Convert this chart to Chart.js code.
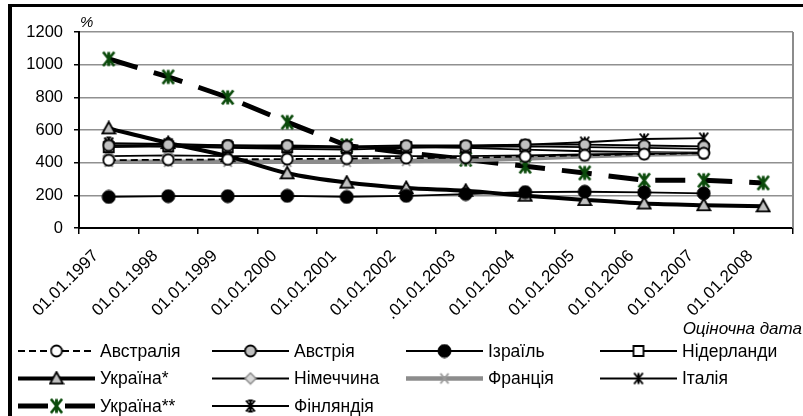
<!DOCTYPE html>
<html>
<head>
<meta charset="utf-8">
<script src="https://cdn.jsdelivr.net/npm/chart.js@4.4.1/dist/chart.umd.min.js"></script>
<style>
  html, body { margin: 0; padding: 0; background: #fff; }
  #wrap { position: relative; width: 803px; height: 416px; overflow: hidden; }
  #chart { position: absolute; left: 0; top: 0; }
  #frame { position: absolute; left: 8px; top: 4px; width: 830px; height: 440px;
           border-left: 4px solid #000; border-top: 3px solid #000; pointer-events: none; }
</style>
</head>
<body>
<div id="wrap">
  <canvas id="chart" width="803" height="416"></canvas>
  <div id="frame"></div>
</div>
<script>
// ─── Data ────────────────────────────────────────────────
const dates = ['01.01.1997', '01.01.1998', '01.01.1999', '01.01.2000', '01.01.2001', '01.01.2002',
               '.01.01.2003', '01.01.2004', '01.01.2005', '01.01.2006', '01.01.2007', '01.01.2008'];
const yTicks = [0, 200, 400, 600, 800, 1000, 1200];

const seriesNames = ['Австралія', 'Австрія', 'Ізраїль', 'Нідерланди', 'Україна*', 'Німеччина',
                     'Франція', 'Італія', 'Україна**', 'Фінляндія'];

const australia   = [415, 418, 420, 422, 425, 428, 430, 438, 445, 452, 458];
const austria     = [505, 510, 505, 505, 500, 505, 505, 510, 510, 505, 500];
const israel      = [190, 195, 195, 197, 190, 197, 208, 220, 222, 218, 212];
const netherlands = [495, 500, 495, 495, 490, 495, 495, 500, 495, 490, 485];
const ukraine1    = [610, 520, 440, 335, 278, 245, 228, 198, 172, 150, 140, 133];
const germany     = [440, 445, 440, 440, 440, 440, 440, 445, 450, 455, 460];
const france      = [405, 405, 405, 405, 405, 410, 415, 425, 440, 450, 455];
const italy       = [505, 500, 490, 485, 480, 490, 500, 510, 525, 545, 550];
const ukraine2    = [1035, 925, 800, 648, 505, 460, 420, 378, 337, 292, 292, 276];
const finland     = [520, 515, 505, 500, 495, 495, 490, 480, 470, 465, 462];

// ─── Marker images ───────────────────────────────────────
function marker(kind, o) {
  const s = o.size || 14;
  const c = document.createElement('canvas');
  c.width = c.height = s;
  const g = c.getContext('2d');
  const m = s / 2, r = o.r || (s / 2 - 1.5);
  g.lineWidth = o.lw || 1.5;
  g.strokeStyle = o.stroke || '#000';
  g.fillStyle = o.fill || '#fff';
  g.beginPath();
  if (kind === 'circle') {
    g.arc(m, m, r, 0, Math.PI * 2); g.fill(); g.stroke();
  } else if (kind === 'square') {
    g.rect(m - r, m - r, 2 * r, 2 * r); g.fill(); g.stroke();
  } else if (kind === 'triangle') {
    g.moveTo(m, m - r); g.lineTo(m + r, m + r * 0.8); g.lineTo(m - r, m + r * 0.8); g.closePath();
    g.fill(); g.stroke();
  } else if (kind === 'diamond') {
    g.moveTo(m, m - r); g.lineTo(m + r, m); g.lineTo(m, m + r); g.lineTo(m - r, m); g.closePath();
    g.fill(); g.stroke();
  } else {
    const k = r * 0.8;
    g.moveTo(m - k, m - r); g.lineTo(m + k, m + r);
    g.moveTo(m + k, m - r); g.lineTo(m - k, m + r);
    if (kind !== 'x') { g.moveTo(m, m - r); g.lineTo(m, m + r); }
    if (kind === 'zhe') { g.moveTo(m - 2.5, m - r); g.lineTo(m + 2.5, m - r); g.moveTo(m - 2.5, m + r); g.lineTo(m + 2.5, m + r); }
    g.stroke();
  }
  return c;
}

const mkAustralia   = marker('circle',   { size: 14, r: 5.5, fill: '#fff', lw: 1.8 });
const mkAustria     = marker('circle',   { size: 14, r: 5.5, fill: '#c0c0c0', lw: 1.8 });
const mkIsrael      = marker('circle',   { size: 15, r: 6.5, fill: '#000', lw: 1 });
const mkNetherlands = marker('square',   { size: 14, r: 5, fill: '#fff', lw: 1.8 });
const mkUkraine1    = marker('triangle', { size: 16, r: 6.5, fill: '#c0c0c0', lw: 1.8 });
const mkGermany     = marker('diamond',  { size: 14, r: 5.5, fill: '#d9d9d9', stroke: '#8c8c8c', lw: 1.5 });
const mkFrance      = marker('x',        { size: 14, r: 5, stroke: '#9a9a9a', lw: 2 });
const mkItaly       = marker('asterisk', { size: 14, r: 5.5, stroke: '#000', lw: 2 });
const mkUkraine2    = marker('asterisk', { size: 17, r: 7, stroke: '#0b4a0b', lw: 2.8 });
const mkFinland     = marker('zhe',      { size: 14, r: 5.5, stroke: '#000', lw: 2 });

function series(i, data, color, width, dash, pt, tension) {
  return {
    label: seriesNames[i], data,
    borderColor: color, backgroundColor: color, borderWidth: width,
    borderDash: dash, pointStyle: pt, pointRadius: 5, tension: tension || 0,
    borderCapStyle: 'butt', fill: false
  };
}

const datasets = [
  series(0, australia,   '#000',    1.8, [7, 4], mkAustralia),
  series(1, austria,     '#000',    1.8, [],     mkAustria),
  series(2, israel,      '#000',    1.8, [],     mkIsrael),
  series(3, netherlands, '#000',    1.8, [],     mkNetherlands),
  series(4, ukraine1,    '#000',    4,   [],     mkUkraine1, 0.3),
  series(5, germany,     '#000',    1.8, [],     mkGermany),
  series(6, france,      '#8c8c8c', 4.5, [],     mkFrance),
  series(7, italy,       '#000',    1.8, [],     mkItaly),
  series(8, ukraine2,    '#000',    5,   [30, 17], mkUkraine2),
  series(9, finland,     '#000',    1.8, [],     mkFinland)
];

// ─── Extras: frame lines, legend, captions ───────────────
const extrasPlugin = {
  id: 'extras',
  afterDraw(chart) {
    const ctx = chart.ctx;
    const a = chart.chartArea;
    ctx.save();
    // right edge of plot
    ctx.strokeStyle = '#8c8c8c';
    ctx.lineWidth = 2;
    ctx.beginPath(); ctx.moveTo(a.right, a.top); ctx.lineTo(a.right, a.bottom); ctx.stroke();

    ctx.fillStyle = '#000';
    ctx.font = 'italic 15px "Liberation Sans", Arial, sans-serif';
    ctx.textBaseline = 'middle';
    ctx.textAlign = 'left';
    ctx.fillText('%', 80, 23);
    ctx.font = 'italic 17px "Liberation Sans", Arial, sans-serif';
    ctx.textAlign = 'right';
    ctx.fillText('Оціночна дата', 802, 329);

    // legend
    ctx.textAlign = 'left';
    ctx.font = '17.5px "Liberation Sans", Arial, sans-serif';
    chart.data.datasets.forEach((ds, i) => {
      const col = i % 4, row = Math.floor(i / 4);
      const x0 = 18 + col * 194, y = 351 + row * 27.5;
      ctx.strokeStyle = ds.borderColor;
      ctx.lineWidth = ds.borderWidth;
      ctx.setLineDash(ds.borderDash || []);
      ctx.beginPath(); ctx.moveTo(x0, y); ctx.lineTo(x0 + 77, y); ctx.stroke();
      ctx.setLineDash([]);
      const img = ds.pointStyle;
      ctx.drawImage(img, x0 + 38.5 - img.width / 2, y - img.height / 2);
      ctx.fillStyle = '#000';
      ctx.fillText(ds.label, x0 + 82, y + 1);
    });
    ctx.restore();
  }
};

new Chart(document.getElementById('chart'), {
  type: 'line',
  data: { labels: dates, datasets },
  plugins: [extrasPlugin],
  options: {
    responsive: false,
    animation: false,
    layout: { padding: { top: 32, right: 9, bottom: 0, left: 0 } },
    plugins: { legend: { display: false }, tooltip: { enabled: false } },
    scales: {
      x: {
        offset: true,
        grid: { offset: true, drawOnChartArea: false, tickLength: 6, color: '#000', lineWidth: 1.5 },
        border: { color: '#000', width: 2 },
        ticks: {
          minRotation: 45, maxRotation: 45, autoSkip: false, padding: 12, labelOffset: -13,
          color: '#000', font: { family: '"Liberation Sans", Arial, sans-serif', size: 17 }
        },
        afterFit(scale) { scale.height = 188; }
      },
      y: {
        min: 0, max: 1200,
        afterBuildTicks(scale) { scale.ticks = yTicks.map(v => ({ value: v })); },
        grid: { color: '#909090', lineWidth: 1.5, tickLength: 5, tickColor: '#000' },
        border: { color: '#000', width: 2 },
        ticks: {
          padding: 11, color: '#000', callback: v => String(v),
          font: { family: '"Liberation Sans", Arial, sans-serif', size: 16.5 }
        },
        afterFit(scale) { scale.width = 79; }
      }
    }
  }
});
</script>
</body>
</html>
